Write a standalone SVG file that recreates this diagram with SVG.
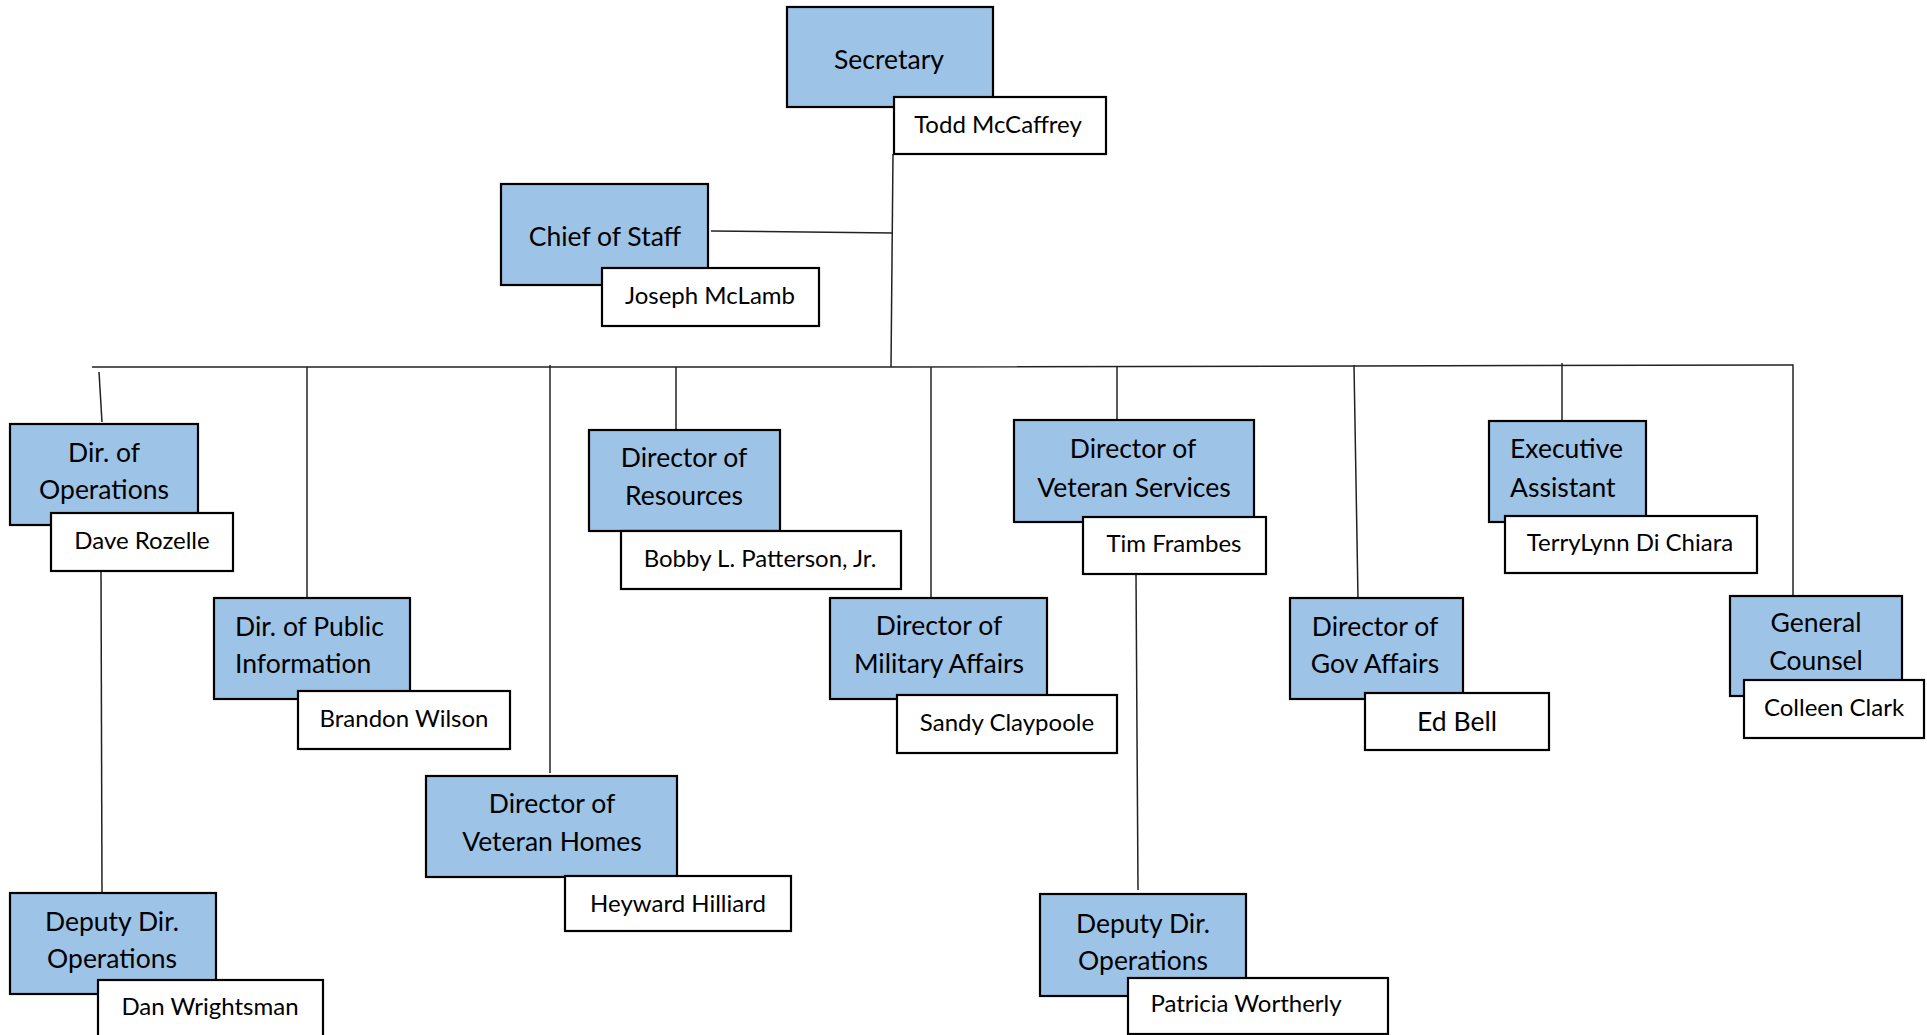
<svg xmlns="http://www.w3.org/2000/svg" width="1927" height="1035" viewBox="0 0 1927 1035">
<style>
.t{fill:#9dc3e6;stroke:#000;stroke-width:2.2}
.n{fill:#fff;stroke:#000;stroke-width:2.2}
.c{stroke:#222;stroke-width:1.5;fill:none}
text{font-family:Lato,"Liberation Sans",sans-serif;fill:#000}
.tt{font-size:26.5px;text-anchor:middle}
.tl{font-size:26.5px}
.nt{font-size:24px;text-anchor:middle}
</style>
<rect width="1927" height="1035" fill="#fff"/>
<g id="connectors">
<line class="c" x1="893" y1="154" x2="891" y2="367"/>
<line class="c" x1="711" y1="231" x2="893" y2="233"/>
<polyline class="c" points="92,367 891,367 1793,365 1793,595"/>
<line class="c" x1="99" y1="372" x2="102" y2="422"/>
<line class="c" x1="307" y1="367" x2="307" y2="598"/>
<line class="c" x1="550" y1="365" x2="550" y2="773"/>
<line class="c" x1="676" y1="367" x2="676" y2="432"/>
<line class="c" x1="931" y1="367" x2="931" y2="600"/>
<line class="c" x1="1117" y1="367" x2="1117" y2="420"/>
<line class="c" x1="1354" y1="365" x2="1358" y2="598"/>
<line class="c" x1="1562" y1="363" x2="1562" y2="421"/>
<line class="c" x1="101" y1="571" x2="102" y2="893"/>
<line class="c" x1="1136" y1="574" x2="1138" y2="890"/>
</g>
<g id="secretary">
<rect class="t" x="787" y="7" width="206" height="100"/>
<text class="tt" x="889" y="69">Secretary</text>
<rect class="n" x="894" y="97" width="212" height="57"/>
<text class="nt" x="998" y="133">Todd McCaffrey</text>
</g>
<g id="chief-of-staff">
<rect class="t" x="501" y="184" width="207" height="101"/>
<text class="tt" x="605" y="246">Chief of Staff</text>
<rect class="n" x="602" y="268" width="217" height="58"/>
<text class="nt" x="710" y="304">Joseph McLamb</text>
</g>
<g id="dir-operations">
<rect class="t" x="10" y="424" width="188" height="101"/>
<text class="tt" x="104" y="462">Dir. of</text>
<text class="tt" x="104" y="499">Operations</text>
<rect class="n" x="51" y="513" width="182" height="58"/>
<text class="nt" x="142" y="549">Dave Rozelle</text>
</g>
<g id="dir-public-information">
<rect class="t" x="214" y="598" width="196" height="101"/>
<text class="tl" x="235" y="636">Dir. of Public</text>
<text class="tl" x="235" y="673">Information</text>
<rect class="n" x="298" y="691" width="212" height="58"/>
<text class="nt" x="404" y="727">Brandon Wilson</text>
</g>
<g id="dir-veteran-homes">
<rect class="t" x="426" y="776" width="251" height="101"/>
<text class="tt" x="552" y="813">Director of</text>
<text class="tt" x="552" y="851">Veteran Homes</text>
<rect class="n" x="565" y="876" width="226" height="55"/>
<text class="nt" x="678" y="912">Heyward Hilliard</text>
</g>
<g id="dir-resources">
<rect class="t" x="589" y="430" width="191" height="101"/>
<text class="tt" x="684" y="467">Director of</text>
<text class="tt" x="684" y="505">Resources</text>
<rect class="n" x="621" y="531" width="280" height="58"/>
<text class="nt" x="760" y="567">Bobby L. Patterson, Jr.</text>
</g>
<g id="dir-military-affairs">
<rect class="t" x="830" y="598" width="217" height="101"/>
<text class="tt" x="939" y="635">Director of</text>
<text class="tt" x="939" y="673">Military Affairs</text>
<rect class="n" x="897" y="695" width="220" height="58"/>
<text class="nt" x="1007" y="731">Sandy Claypoole</text>
</g>
<g id="dir-veteran-services">
<rect class="t" x="1014" y="420" width="240" height="102"/>
<text class="tt" x="1133" y="458">Director of</text>
<text class="tt" x="1134" y="497">Veteran Services</text>
<rect class="n" x="1083" y="517" width="183" height="57"/>
<text class="nt" x="1174" y="552">Tim Frambes</text>
</g>
<g id="dir-gov-affairs">
<rect class="t" x="1290" y="598" width="173" height="101"/>
<text class="tt" x="1375" y="636">Director of</text>
<text class="tt" x="1375" y="673">Gov Affairs</text>
<rect class="n" x="1365" y="693" width="184" height="57"/>
<text class="tt" x="1457" y="731">Ed Bell</text>
</g>
<g id="executive-assistant">
<rect class="t" x="1489" y="421" width="157" height="101"/>
<text class="tl" x="1510" y="458">Executive</text>
<text class="tl" x="1510" y="497">Assistant</text>
<rect class="n" x="1505" y="516" width="252" height="57"/>
<text class="nt" x="1630" y="551">TerryLynn Di Chiara</text>
</g>
<g id="general-counsel">
<rect class="t" x="1730" y="596" width="172" height="100"/>
<text class="tt" x="1816" y="632">General</text>
<text class="tt" x="1816" y="670">Counsel</text>
<rect class="n" x="1744" y="680" width="180" height="58"/>
<text class="nt" x="1834" y="716">Colleen Clark</text>
</g>
<g id="deputy-dir-operations-1">
<rect class="t" x="10" y="893" width="206" height="101"/>
<text class="tt" x="112" y="931">Deputy Dir.</text>
<text class="tt" x="112" y="968">Operations</text>
<rect class="n" x="98" y="980" width="225" height="60"/>
<text class="nt" x="210" y="1015">Dan Wrightsman</text>
</g>
<g id="deputy-dir-operations-2">
<rect class="t" x="1040" y="894" width="206" height="102"/>
<text class="tt" x="1143" y="933">Deputy Dir.</text>
<text class="tt" x="1143" y="970">Operations</text>
<rect class="n" x="1128" y="978" width="260" height="56"/>
<text class="nt" x="1246" y="1012">Patricia Wortherly</text>
</g>
</svg>
